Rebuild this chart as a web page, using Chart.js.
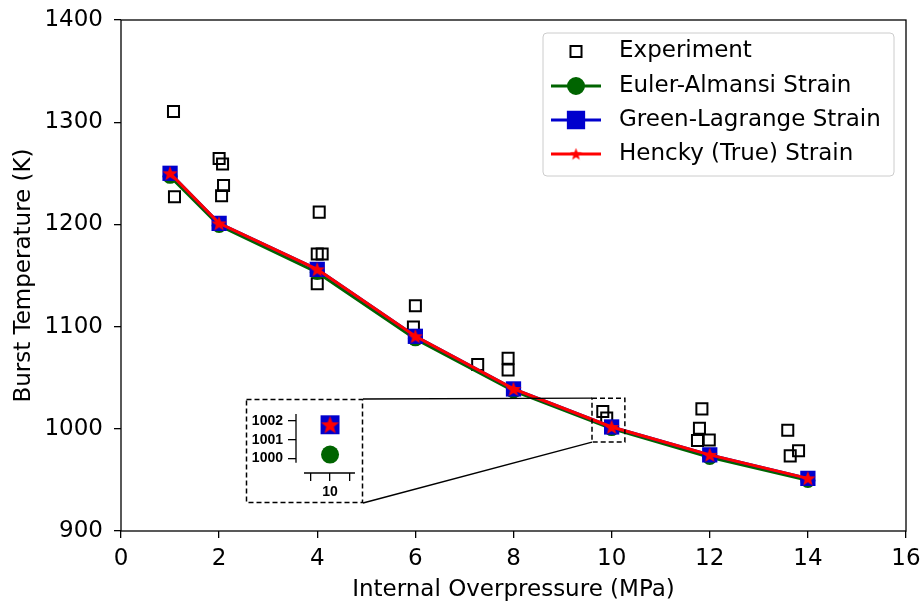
<!DOCTYPE html>
<html lang="en">
<head>
<meta charset="UTF-8">
<title>Burst Temperature vs Internal Overpressure</title>
<script src="https://cdn.jsdelivr.net/npm/chart.js"></script>
<style>
    body { margin: 0; background: #fff; }
    #wrap { position: relative; width: 922px; height: 604px; }
    #mainChart { position: absolute; left: 0; top: 0; }
    #insetChart { position: absolute; left: 246px; top: 399px; }
</style>
</head>
<body>
<div id="wrap">
    <canvas id="mainChart" width="922" height="604"></canvas>
    <canvas id="insetChart" width="117" height="104"></canvas>
</div>

<script>
    // model curves (MPa -> K)
    const pressure = [1, 2, 4, 6, 8, 10, 12, 14];
    const eulerAlmansi = [1247, 1199, 1153, 1088, 1037, 1000.2, 972, 949.5];
    const greenLagrange = [1250, 1201, 1156, 1090.5, 1039, 1001.8, 974.5, 951.5];
    const hencky = [1250, 1201, 1156, 1090.5, 1039, 1001.8, 974.5, 951.5];

    // experimental burst points
    const expPressure = [1.07, 1.09, 2.0, 2.07, 2.09, 2.05, 4.04, 4.0, 4.1, 4.0, 6.0, 5.96,
                         7.27, 7.89, 7.89, 9.82, 9.9, 11.84, 11.79, 11.75, 11.99, 13.59, 13.81, 13.64];
    const expTemp = [1310.5, 1227, 1264.5, 1259, 1238, 1228, 1212, 1171, 1171, 1142, 1120.5, 1099.5,
                     1063, 1069, 1057.5, 1017, 1010.5, 1019.5, 1000.5, 988.5, 989, 998.5, 978.5, 973.5];

    const xMax = 16, xStep = 2;
    const yMin = 900, yMax = 1400, yStep = 100;

    // zoomed region and inset limits
    const zoomX = [9.6, 10.27];
    const zoomY = [987, 1030];
    const insetXTicks = [9.9, 10, 10.1];
    const insetYTicks = [1000, 1001, 1002];
    const insetXSpan = [9.864, 10.13];
    const insetYSpan = [999.76, 1002.375];

    const GREEN = '#006400', BLUE = '#0000cd', RED = '#ff0000';
    const font = { family: 'DejaVu Sans', size: 23 };
    const insetFont = { family: 'Liberation Sans', size: 14, weight: 'bold' };
    const plain = v => String(v);

    function starImage(size, color) {
        const c = document.createElement('canvas');
        c.width = c.height = size;
        const g = c.getContext('2d');
        const r = size / 2, ri = r * 0.42;
        g.beginPath();
        for (let i = 0; i < 10; i++) {
            const a = -Math.PI / 2 + i * Math.PI / 5;
            const rr = i % 2 ? ri : r;
            g.lineTo(r + rr * Math.cos(a), r + 0.08 * r + rr * Math.sin(a));
        }
        g.closePath();
        g.fillStyle = color;
        g.fill();
        return c;
    }

    const toPoints = (xs, ys) => xs.map((x, i) => ({ x: x, y: ys[i] }));

    // keep the chart area where the layout padding puts it
    function fixX(height) {
        return s => { s.height = height; s.paddingLeft = 0; s.paddingRight = 0; };
    }
    function fixY(width) {
        return s => { s.width = width; s.paddingTop = 0; s.paddingBottom = 0; };
    }

    // full frame (all four spines)
    const framePlugin = {
        id: 'frame',
        afterDraw(chart) {
            const a = chart.chartArea, ctx = chart.ctx;
            ctx.save();
            ctx.strokeStyle = '#000';
            ctx.lineWidth = 1.3;
            ctx.strokeRect(a.left, a.top, a.right - a.left, a.bottom - a.top);
            ctx.restore();
        }
    };

    // inset box, zoom rectangle and connector lines
    const insetBox = { left: 246, top: 399, width: 117, height: 104 };
    const zoomPlugin = {
        id: 'zoomMarks',
        afterDatasetsDraw(chart) {
            const ctx = chart.ctx, xs = chart.scales.x, ys = chart.scales.y;
            const zl = xs.getPixelForValue(zoomX[0]), zr = xs.getPixelForValue(zoomX[1]);
            const zt = ys.getPixelForValue(zoomY[1]), zb = ys.getPixelForValue(zoomY[0]);
            const b = insetBox;
            ctx.save();
            ctx.fillStyle = '#fff';
            ctx.fillRect(b.left, b.top, b.width, b.height);
            ctx.strokeStyle = '#000';
            ctx.lineWidth = 1.4;
            ctx.beginPath();
            ctx.moveTo(b.left + b.width, b.top);
            ctx.lineTo(zl, zt);
            ctx.moveTo(b.left + b.width, b.top + b.height);
            ctx.lineTo(zl, zb);
            ctx.stroke();
            ctx.setLineDash([5, 3]);
            ctx.lineWidth = 1.5;
            ctx.strokeRect(b.left + 0.5, b.top + 0.5, b.width - 1, b.height - 1);
            ctx.strokeRect(zl, zt, zr - zl, zb - zt);
            ctx.restore();
        }
    };

    // matplotlib-like legend
    const legendPlugin = {
        id: 'mplLegend',
        afterDraw(chart) {
            const ctx = chart.ctx;
            const box = { left: 543, top: 33, right: 894, bottom: 176 };
            const rows = [51.5, 86, 120, 154];
            const hx0 = 551, hx1 = 601, mx = 576, tx = 619;
            ctx.save();
            ctx.beginPath();
            ctx.roundRect(box.left, box.top, box.right - box.left, box.bottom - box.top, 4);
            ctx.fillStyle = 'rgba(255,255,255,0.8)';
            ctx.fill();
            ctx.strokeStyle = '#cccccc';
            ctx.lineWidth = 1;
            ctx.stroke();
            chart.data.datasets.forEach((ds, k) => {
                const y = rows[k];
                if (ds.showLine) {
                    ctx.strokeStyle = ds.borderColor;
                    ctx.lineWidth = ds.borderWidth;
                    ctx.beginPath();
                    ctx.moveTo(hx0, y);
                    ctx.lineTo(hx1, y);
                    ctx.stroke();
                }
                const style = ds.legendStyle || ds.pointStyle;
                if (typeof style === 'string') {
                    ctx.fillStyle = ds.pointBackgroundColor || 'rgba(0,0,0,0)';
                    ctx.strokeStyle = ds.pointBorderColor || ds.borderColor;
                    ctx.lineWidth = ds.pointBorderWidth !== undefined ? ds.pointBorderWidth : ds.borderWidth;
                    ctx.beginPath();
                    if (style === 'rect') {
                        const h = ds.pointRadius * Math.SQRT1_2;
                        ctx.rect(mx - h, y - h, 2 * h, 2 * h);
                    } else {
                        ctx.arc(mx, y, ds.pointRadius, 0, Math.PI * 2);
                    }
                    ctx.fill();
                    if (ctx.lineWidth > 0) ctx.stroke();
                } else {
                    ctx.drawImage(style, mx - style.width / 2, y - style.height / 2);
                }
                ctx.fillStyle = '#000';
                ctx.font = font.size + 'px ' + font.family;
                ctx.textBaseline = 'middle';
                ctx.textAlign = 'left';
                ctx.fillText(ds.label, tx, y);
            });
            ctx.restore();
        }
    };

    new Chart(document.getElementById('mainChart'), {
        type: 'scatter',
        data: {
            datasets: [
                {
                    label: 'Experiment',
                    data: toPoints(expPressure, expTemp),
                    pointStyle: 'rect',
                    pointRadius: 7.8,
                    borderColor: '#000',
                    backgroundColor: 'rgba(0,0,0,0)',
                    pointBackgroundColor: 'rgba(0,0,0,0)',
                    pointBorderColor: '#000',
                    borderWidth: 2,
                    order: 4
                },
                {
                    label: 'Euler-Almansi Strain',
                    data: toPoints(pressure, eulerAlmansi),
                    showLine: true,
                    borderColor: GREEN,
                    backgroundColor: GREEN,
                    pointBackgroundColor: GREEN,
                    borderWidth: 3,
                    pointStyle: 'circle',
                    pointRadius: 7.5,
                    pointBorderWidth: 0,
                    order: 3
                },
                {
                    label: 'Green-Lagrange Strain',
                    data: toPoints(pressure, greenLagrange),
                    showLine: true,
                    borderColor: BLUE,
                    backgroundColor: BLUE,
                    pointBackgroundColor: BLUE,
                    borderWidth: 3,
                    pointStyle: 'rect',
                    pointRadius: 10.8,
                    pointBorderWidth: 0,
                    order: 2
                },
                {
                    label: 'Hencky (True) Strain',
                    data: toPoints(pressure, hencky),
                    showLine: true,
                    borderColor: RED,
                    backgroundColor: RED,
                    borderWidth: 3,
                    pointStyle: starImage(16, RED),
                    legendStyle: starImage(13, RED),
                    pointRadius: 7,
                    pointBorderWidth: 0,
                    order: 1
                }
            ]
        },
        options: {
            responsive: false,
            animation: false,
            layout: { autoPadding: false, padding: { top: 20, right: 16, left: 0, bottom: 0 } },
            plugins: { legend: { display: false }, tooltip: { enabled: false } },
            scales: {
                x: {
                    type: 'linear',
                    min: 0,
                    max: xMax,
                    ticks: { stepSize: xStep, font: font, color: '#000', padding: 7, maxRotation: 0, callback: plain },
                    grid: { drawOnChartArea: false, tickLength: 7, color: '#000', lineWidth: 1.3 },
                    border: { display: false },
                    title: { display: true, text: 'Internal Overpressure (MPa)', font: font, color: '#000', padding: { top: 0, bottom: 0 } },
                    afterFit: fixX(73)
                },
                y: {
                    min: yMin,
                    max: yMax,
                    ticks: { stepSize: yStep, font: font, color: '#000', padding: 11, callback: plain },
                    grid: { drawOnChartArea: false, tickLength: 7, color: '#000', lineWidth: 1.3 },
                    border: { display: false },
                    title: { display: true, text: 'Burst Temperature (K)', font: font, color: '#000', padding: { top: 10, bottom: 0 } },
                    afterFit: fixY(121)
                }
            }
        },
        plugins: [framePlugin, zoomPlugin, legendPlugin]
    });

    // inset: only the markers at 10 MPa
    const i10 = pressure.indexOf(10);
    const insetSpines = {
        id: 'insetSpines',
        afterDraw(chart) {
            const ctx = chart.ctx, a = chart.chartArea, xs = chart.scales.x, ys = chart.scales.y;
            ctx.save();
            ctx.strokeStyle = '#000';
            ctx.lineWidth = 1.3;
            ctx.beginPath();
            ctx.moveTo(a.left, ys.getPixelForValue(insetYSpan[1]));
            ctx.lineTo(a.left, ys.getPixelForValue(insetYSpan[0]));
            ctx.moveTo(xs.getPixelForValue(insetXSpan[0]), a.bottom);
            ctx.lineTo(xs.getPixelForValue(insetXSpan[1]), a.bottom);
            ctx.stroke();
            ctx.restore();
        }
    };

    new Chart(document.getElementById('insetChart'), {
        type: 'scatter',
        data: {
            datasets: [
                { data: [{ x: pressure[i10], y: eulerAlmansi[i10] }], pointStyle: 'circle', pointRadius: 9, pointBorderWidth: 0, backgroundColor: GREEN, order: 3 },
                { data: [{ x: pressure[i10], y: greenLagrange[i10] }], pointStyle: 'rect', pointRadius: 13.4, pointBorderWidth: 0, backgroundColor: BLUE, order: 2 },
                { data: [{ x: pressure[i10], y: hencky[i10] }], pointStyle: starImage(19, RED), pointRadius: 9, order: 1 }
            ]
        },
        options: {
            responsive: false,
            animation: false,
            clip: false,
            layout: { autoPadding: false, padding: { top: 4, right: 4, left: 0, bottom: 0 } },
            plugins: { legend: { display: false }, tooltip: { enabled: false } },
            scales: {
                x: {
                    type: 'linear',
                    min: 9.8225,
                    max: 10.151,
                    afterBuildTicks(s) { s.ticks = insetXTicks.map(v => ({ value: v })); },
                    ticks: { callback: v => (Math.abs(v - 10) < 1e-9 ? '10' : ''), font: insetFont, color: '#000', padding: 3, maxRotation: 0, autoSkip: false },
                    grid: { drawOnChartArea: false, tickLength: 8, color: '#000', lineWidth: 1.3 },
                    border: { display: false },
                    afterFit: fixX(30)
                },
                y: {
                    min: 999.21,
                    max: 1002.97,
                    afterBuildTicks(s) { s.ticks = insetYTicks.map(v => ({ value: v })); },
                    ticks: { font: insetFont, color: '#000', padding: 5, autoSkip: false, callback: plain },
                    grid: { drawOnChartArea: false, tickLength: 8, color: '#000', lineWidth: 1.3 },
                    border: { display: false },
                    afterFit: fixY(50)
                }
            }
        },
        plugins: [insetSpines]
    });
</script>
</body>
</html>
